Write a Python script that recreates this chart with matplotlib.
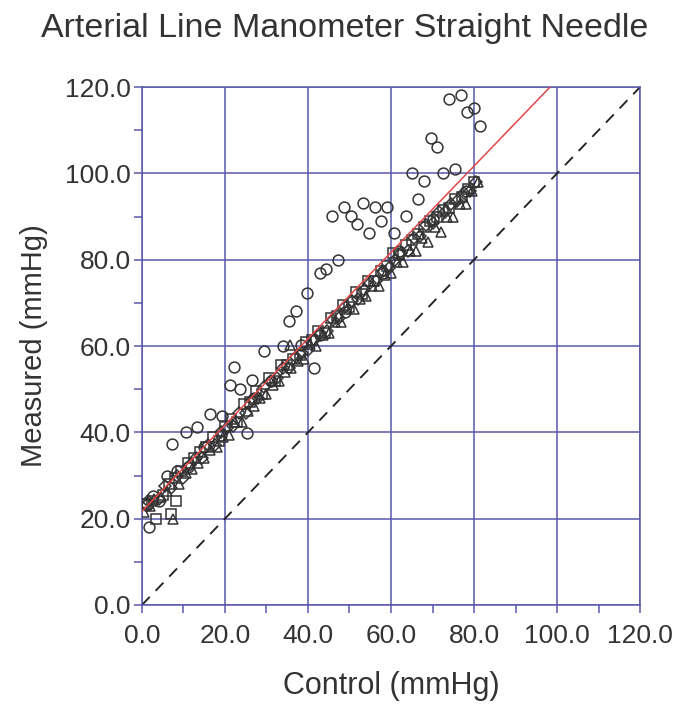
"""Arterial line manometer (straight needle) vs control: scatter with fit and identity line."""

import matplotlib

matplotlib.use("Agg")
import matplotlib.pyplot as plt  # noqa: E402
from matplotlib.ticker import MultipleLocator, FormatStrFormatter  # noqa: E402

TITLE = "Arterial Line Manometer Straight Needle"
XLABEL = "Control (mmHg)"
YLABEL = "Measured (mmHg)"

# circles (includes the high outliers)
circ_x = [1.7, 1.2, 2.7, 4.0, 6.0, 8.4, 7.2, 10.6, 11.0, 13.3, 15.0, 16.4, 19.3, 19.0,
          25.3, 21.2, 23.6, 22.2, 26.5, 27.0, 29.4, 31.0, 34.0, 38.3, 41.4, 35.4, 37.1,
          39.8, 43.0, 42.9, 44.3, 47.2, 49.0, 45.8, 48.7, 50.4, 51.8, 53.3, 56.1, 57.6,
          59.0, 54.7, 58.0, 60.7, 62.0, 63.6, 66.5, 65.1, 68.0, 70.0, 72.5, 75.4, 69.6,
          71.1, 74.0, 76.9, 78.0, 78.3, 80.0, 81.4]
circ_y = [18.1, 23.2, 25.2, 24.0, 29.9, 31.0, 37.3, 40.1, 32.0, 41.2, 36.5, 44.2, 43.8, 39.5,
          39.8, 51.0, 50.0, 55.1, 52.1, 48.0, 58.8, 52.0, 60.0, 60.2, 54.9, 65.8, 68.1,
          72.3, 62.5, 76.9, 77.8, 79.9, 68.0, 90.1, 92.2, 90.1, 88.3, 93.1, 92.2, 89.0,
          92.2, 86.2, 77.0, 86.2, 82.0, 90.1, 94.0, 100.1, 98.2, 89.5, 100.1, 101.0, 108.2,
          106.1, 117.2, 118.1, 96.0, 114.2, 115.1, 111.0]

sq_x = [1.0, 2.5, 3.5, 5.0, 6.5, 8.0, 9.5, 11.0, 12.5, 14.0, 15.5, 17.0, 18.5, 20.0,
        21.5, 23.0, 24.5, 26.0, 27.5, 29.0, 30.5, 32.0, 33.5, 35.0, 36.5, 38.0, 39.5,
        41.0, 42.5, 44.0, 45.5, 47.0, 48.5, 50.0, 51.5, 53.0, 54.5, 56.0, 57.5, 59.0,
        60.5, 62.0, 63.5, 65.0, 66.5, 68.0, 69.5, 71.0, 72.5, 74.0, 75.5, 77.0, 78.5, 80.0,
        0.5, 8.2, 7.0]
sq_y = [23.5, 24.0, 20.0, 25.5, 28.0, 29.5, 31.0, 33.0, 34.0, 35.5, 36.5, 39.0, 38.0, 41.5,
        43.0, 42.5, 46.5, 47.0, 49.5, 49.0, 52.5, 52.0, 55.5, 55.5, 57.0, 58.0, 61.0,
        61.5, 63.5, 63.0, 66.5, 67.0, 69.5, 69.0, 72.5, 72.0, 75.0, 75.0, 77.5, 78.5,
        81.5, 81.0, 83.5, 84.5, 86.0, 87.5, 89.0, 90.0, 91.5, 92.0, 94.0, 94.5, 96.5, 98.0,
        23.4, 24.1, 21.0]

tri_x = [0.5, 2.0, 3.0, 4.5, 6.0, 7.5, 9.0, 10.5, 12.0, 13.5, 15.0, 16.5, 18.0, 19.5,
         21.0, 22.5, 24.0, 25.5, 27.0, 28.5, 30.0, 31.5, 33.0, 34.5, 36.0, 37.5, 39.0,
         40.5, 42.0, 43.5, 45.0, 46.5, 48.0, 49.5, 51.0, 52.5, 54.0, 55.5, 57.0, 58.5,
         60.0, 61.5, 63.0, 64.5, 66.0, 67.5, 69.0, 70.5, 72.0, 73.5, 75.0, 76.5, 78.0,
         79.5, 81.0, 35.7]
tri_y = [21.5, 23.0, 24.5, 25.0, 26.5, 20.0, 28.0, 30.5, 31.5, 33.0, 34.0, 36.0, 36.5, 39.0,
         39.5, 42.5, 42.5, 45.0, 46.0, 48.0, 49.0, 51.0, 52.0, 54.0, 55.0, 56.5, 57.0,
         60.5, 60.0, 62.5, 63.0, 65.5, 65.5, 68.5, 68.5, 71.0, 71.5, 74.0, 74.0, 76.5,
         77.0, 79.5, 79.5, 82.0, 82.0, 85.0, 84.0, 87.5, 86.5, 90.0, 90.0, 93.0, 93.0,
         96.0, 98.0, 60.2]

dia_x = [1.5, 4.0, 5.5, 7.0, 8.5, 10.0, 11.5, 13.0, 14.5, 16.0, 17.5, 19.0, 20.5, 22.0,
         23.5, 25.0, 26.5, 28.0, 29.5, 31.0, 32.5, 34.0, 35.5, 37.0, 38.5, 40.0, 41.5,
         43.0, 44.5, 46.0, 47.5, 49.0, 50.5, 52.0, 53.5, 55.0, 56.5, 58.0, 59.5, 61.0,
         62.5, 64.0, 65.5, 67.0, 68.5, 70.0, 71.5, 73.0, 74.5, 76.0, 77.5, 79.0, 80.5]
dia_y = [24.0, 24.5, 27.5, 27.0, 30.0, 29.5, 32.5, 34.0, 34.0, 37.0, 37.0, 40.0, 41.0, 41.5,
         44.5, 44.5, 47.5, 48.0, 50.5, 52.0, 52.5, 55.0, 55.0, 57.5, 58.5, 59.0, 61.5,
         63.0, 63.5, 66.0, 66.5, 69.0, 70.5, 71.0, 73.0, 74.5, 75.0, 77.5, 78.0, 80.0,
         81.5, 82.0, 85.0, 85.5, 88.0, 88.5, 91.0, 91.0, 93.0, 93.5, 95.5, 96.0, 98.0]

# regression line
fit_intercept = 21.7
fit_slope = 1.0
axis_max = 120.0

GRID = "#5858aa"
INK = "#333333"
FONT = ["Liberation Sans Narrow", "Liberation Sans", "DejaVu Sans"]

plt.rcParams["font.family"] = FONT

fig = plt.figure(figsize=(6.89, 7.08), dpi=100)
ax = fig.add_axes([0.206, 0.1455, 0.723, 0.7315])

ax.plot([0, axis_max], [0, axis_max], linestyle=(0, (6, 4.5)), color="#222222",
        linewidth=1.35, zorder=2)

mk = dict(linestyle="none", markerfacecolor="none", markeredgecolor=INK,
          markeredgewidth=1.1, zorder=3)
ax.plot(dia_x, dia_y, marker="D", markersize=6.0, **mk)
ax.plot(tri_x, tri_y, marker="^", markersize=7.5, **mk)
ax.plot(sq_x, sq_y, marker="s", markersize=6.5, **mk)
ax.plot(circ_x, circ_y, marker="o", markersize=7.8, **mk)

ax.plot([0, axis_max], [fit_intercept, fit_intercept + fit_slope * axis_max],
        color="#e04848", linewidth=1.1, zorder=4)

ax.set_xlim(0, axis_max)
ax.set_ylim(0, axis_max)
for a in (ax.xaxis, ax.yaxis):
    a.set_major_locator(MultipleLocator(20))
    a.set_minor_locator(MultipleLocator(10))
    a.set_major_formatter(FormatStrFormatter("%.1f"))
ax.grid(True, which="major", color=GRID, linewidth=1.1, zorder=1)
ax.set_axisbelow(True)
for s in ax.spines.values():
    s.set_color(GRID)
    s.set_linewidth(1.1)
ax.tick_params(which="both", direction="out", color=GRID, width=1.1, length=6,
               labelsize=19, labelcolor=INK)
ax.tick_params(axis="x", pad=8)
ax.tick_params(axis="y", pad=2)

ax.set_xlabel(XLABEL, fontsize=22, color=INK, labelpad=16)
ax.set_ylabel(YLABEL, fontsize=21, color=INK, labelpad=12)
fig.text(0.5, 0.96, TITLE, ha="center", va="center", fontsize=24.5, color=INK)

fig.savefig("out.png", dpi=100)
plt.close(fig)
